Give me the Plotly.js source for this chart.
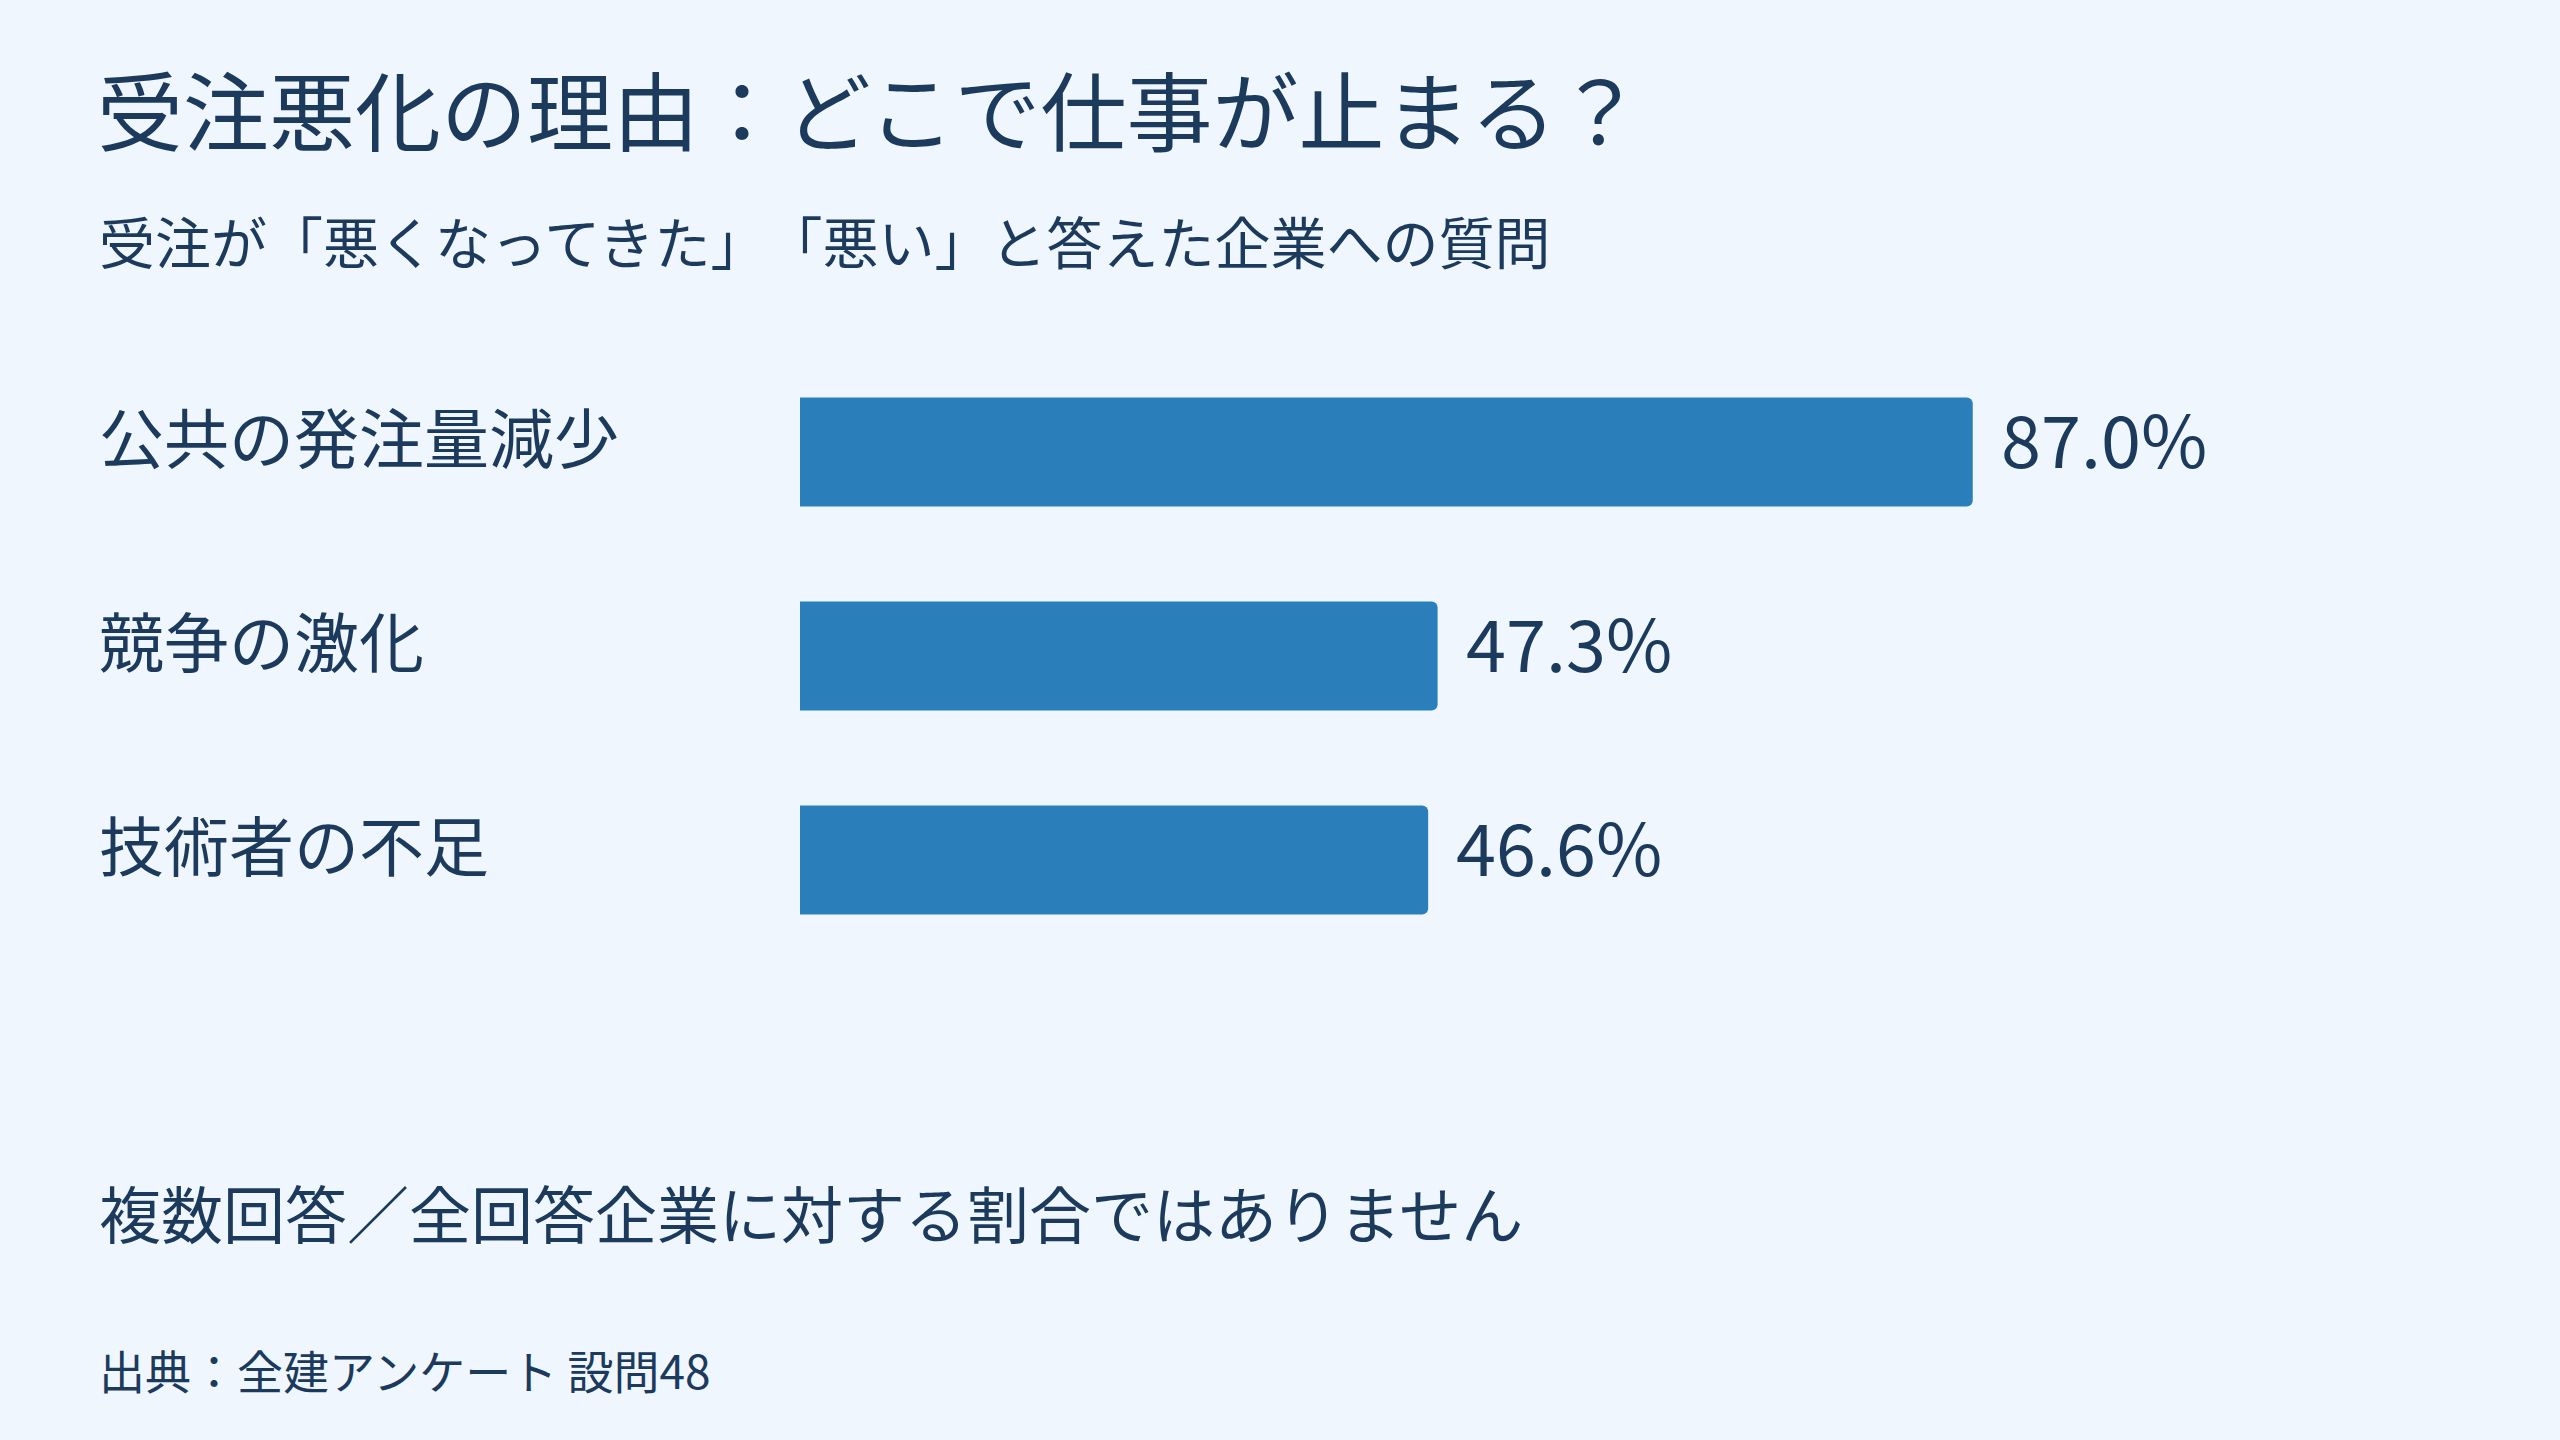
<!DOCTYPE html>
<html>
<head>
<meta charset="utf-8">
<script src="https://cdn.plot.ly/plotly-3.0.1.min.js"></script>
<style>
  html, body { margin: 0; padding: 0; background: #f0f6fd; }
  #chart { width: 2560px; height: 1440px; }
  * { text-spacing-trim: space-all; }
</style>
</head>
<body>
<div id="chart"></div>
<script>
// ---- data ----
const categories = ["公共の発注量減少", "競争の激化", "技術者の不足"];
const values = [87.0, 47.3, 46.6];
const titleText = "受注悪化の理由：どこで仕事が止まる？";
const subtitleText = "受注が「悪くなってきた」「悪い」と答えた企業への質問";
const noteText = "複数回答／全回答企業に対する割合ではありません";
const sourceText = "出典：全建アンケート 設問48";

// ---- layout helpers ----
const W = 2560, H = 1440;
const L = 800, R = 412, T = 350, B = 478;
const PW = W - L - R, PH = H - T - B;
const px2paperX = p => (p - L) / PW;
const px2paperY = p => (H - B - p) / PH;
const LEFT = 97;

const FONT = '"Noto Sans CJK JP", "Noto Sans", sans-serif';
const TXT = '#1b3a5c';
const BAR = '#2a7fba';
const BG = '#f0f6fd';

const annotations = [];
categories.forEach((c, i) => {
  annotations.push({
    text: c, x: px2paperX(LEFT), xref: 'paper', xanchor: 'left',
    y: c, yref: 'y', yanchor: 'middle', yshift: 17, showarrow: false,
    font: {family: FONT, size: 65, color: TXT}
  });
  annotations.push({
    text: values[i].toFixed(1) + '%', x: values[i], xref: 'x', xanchor: 'left', xshift: 26,
    y: c, yref: 'y', yanchor: 'middle', yshift: 16, showarrow: false,
    font: {family: FONT, size: 72, color: TXT}
  });
});
annotations.push({
  text: subtitleText, x: px2paperX(LEFT), xref: 'paper', xanchor: 'left',
  y: px2paperY(239), yref: 'paper', yanchor: 'middle', showarrow: false,
  font: {family: FONT, size: 56, color: TXT}
});
annotations.push({
  text: noteText, x: px2paperX(LEFT), xref: 'paper', xanchor: 'left',
  y: px2paperY(1212), yref: 'paper', yanchor: 'middle', showarrow: false,
  font: {family: FONT, size: 62, color: TXT}
});
annotations.push({
  text: sourceText, x: px2paperX(LEFT), xref: 'paper', xanchor: 'left',
  y: px2paperY(1369), yref: 'paper', yanchor: 'middle', showarrow: false,
  font: {family: FONT, size: 46, color: TXT}
});

const trace = {
  type: 'bar', orientation: 'h',
  x: values, y: categories,
  marker: {color: BAR, cornerradius: 6},
  hoverinfo: 'skip'
};

const layout = {
  width: W, height: H,
  paper_bgcolor: BG, plot_bgcolor: BG,
  margin: {l: L, r: R, t: T, b: B, pad: 0},
  bargap: 0.466,
  showlegend: false,
  title: {
    text: titleText, xref: 'container', x: LEFT / W, xanchor: 'left',
    yref: 'container', y: 1 - 115 / H, yanchor: 'middle',
    font: {family: FONT, size: 86, color: TXT}
  },
  xaxis: {range: [0, 100], visible: false, fixedrange: true},
  yaxis: {categoryorder: 'array', categoryarray: categories, autorange: 'reversed',
          visible: false, fixedrange: true},
  annotations: annotations
};

Plotly.newPlot('chart', [trace], layout, {displayModeBar: false, staticPlot: true});
</script>
</body>
</html>
